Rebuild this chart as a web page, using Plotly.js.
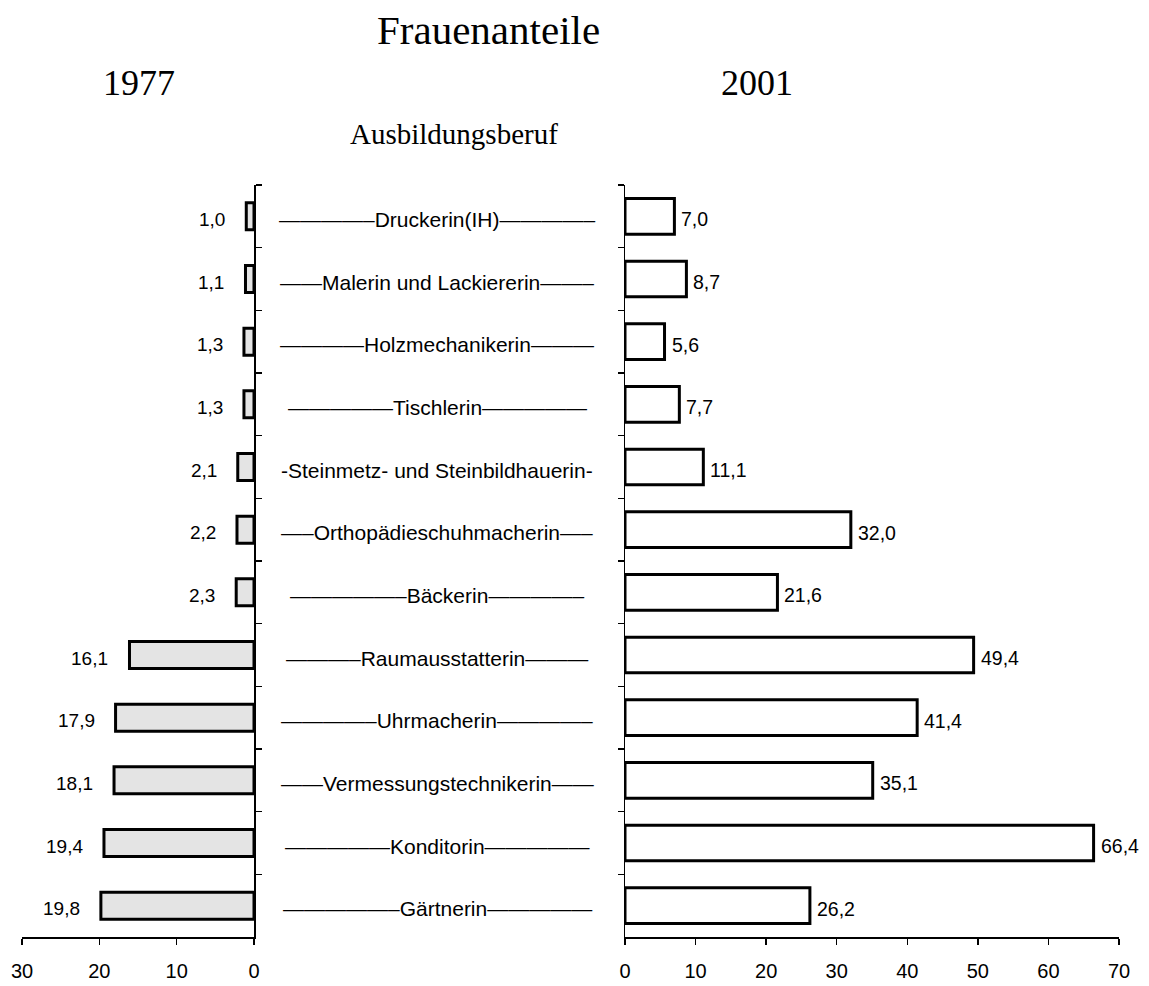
<!DOCTYPE html>
<html>
<head>
<meta charset="utf-8">
<script src="https://cdn.plot.ly/plotly-3.0.1.min.js"></script>
<style>html,body{margin:0;padding:0;background:#fff;}#chart{width:1149px;height:986px;}</style>
</head>
<body>
<div id="chart"></div>
<script>
// ---- Data ----
const categories = [
  "Druckerin(IH)", "Malerin und Lackiererin", "Holzmechanikerin", "Tischlerin",
  "Steinmetz- und Steinbildhauerin", "Orthopädieschuhmacherin", "Bäckerin",
  "Raumausstatterin", "Uhrmacherin", "Vermessungstechnikerin", "Konditorin", "Gärtnerin"
];
const middleLabels = [
  "————–Druckerin(IH)————–",
  "——Malerin und Lackiererin——–",
  "————Holzmechanikerin———",
  "—————Tischlerin—————",
  "-Steinmetz- und Steinbildhauerin-",
  "—–Orthopädieschuhmacherin—–",
  "—————–Bäckerin————–",
  "———–Raumausstatterin———",
  "————–Uhrmacherin————–",
  "——Vermessungstechnikerin——",
  "—————Konditorin—————",
  "—————–Gärtnerin—————"
];
const values1977 = [1.0, 1.1, 1.3, 1.3, 2.1, 2.2, 2.3, 16.1, 17.9, 18.1, 19.4, 19.8];
const values2001 = [7.0, 8.7, 5.6, 7.7, 11.1, 32.0, 21.6, 49.4, 41.4, 35.1, 66.4, 26.2];
const ticksLeft = [0, 10, 20, 30];
const ticksRight = [0, 10, 20, 30, 40, 50, 60, 70];
const mainTitle = "Frauenanteile";
const yearLeft = "1977";
const yearRight = "2001";
const middleTitle = "Ausbildungsberuf";

// ---- Helpers ----
const W = 1149, H = 986;
const px = v => v / W;
const py = v => 1 - v / H;
const fmt = v => v.toFixed(1).replace('.', ',');
const SANS = "Liberation Sans, Arial, sans-serif";
const SERIF = "Liberation Serif, Times New Roman, serif";

const traces = [
  {
    type: 'bar', orientation: 'h', x: values1977, y: categories,
    xaxis: 'x', yaxis: 'y', width: 0.43,
    marker: {color: '#e4e4e4', line: {color: '#000', width: 3}},
    hoverinfo: 'skip', showlegend: false
  },
  {
    type: 'bar', orientation: 'h', x: values2001, y: categories,
    xaxis: 'x2', yaxis: 'y2', width: 0.57,
    marker: {color: '#ffffff', line: {color: '#000', width: 3}},
    hoverinfo: 'skip', showlegend: false
  }
];

const annotations = [];
values1977.forEach((v, i) => annotations.push({
  x: v, y: categories[i], xref: 'x', yref: 'y', text: fmt(v), showarrow: false,
  xanchor: 'right', yanchor: 'middle', xshift: -19, yshift: -3,
  font: {family: SANS, size: 19, color: '#000'}
}));
values2001.forEach((v, i) => annotations.push({
  x: v, y: categories[i], xref: 'x2', yref: 'y2', text: fmt(v), showarrow: false,
  xanchor: 'left', yanchor: 'middle', xshift: 5, yshift: -3,
  font: {family: SANS, size: 19.5, color: '#000'}
}));
middleLabels.forEach((t, i) => annotations.push({
  x: px(437), y: categories[i], xref: 'paper', yref: 'y', text: t, showarrow: false,
  xanchor: 'center', yanchor: 'middle', yshift: -3,
  font: {family: SANS, size: 21, color: '#000'}
}));
annotations.push(
  {x: px(488), y: py(30), xref: 'paper', yref: 'paper', text: mainTitle, showarrow: false,
   xanchor: 'center', yanchor: 'middle', font: {family: SERIF, size: 41, color: '#000'}},
  {x: px(139), y: py(83), xref: 'paper', yref: 'paper', text: yearLeft, showarrow: false,
   xanchor: 'center', yanchor: 'middle', font: {family: SERIF, size: 36, color: '#000'}},
  {x: px(757), y: py(83), xref: 'paper', yref: 'paper', text: yearRight, showarrow: false,
   xanchor: 'center', yanchor: 'middle', font: {family: SERIF, size: 36, color: '#000'}},
  {x: px(453.5), y: py(134), xref: 'paper', yref: 'paper', text: middleTitle, showarrow: false,
   xanchor: 'center', yanchor: 'middle', font: {family: SERIF, size: 29, color: '#000'}}
);

const yDomain = [py(937), py(185)];
const xAxisCommon = {
  showgrid: false, zeroline: false, showline: true, linecolor: '#000', linewidth: 1.5,
  ticks: 'outside', ticklen: 6, tickwidth: 1.5, tickcolor: '#000',
  tickfont: {family: SANS, size: 20, color: '#000'}, ticklabelstandoff: 9,
  fixedrange: true
};
const yAxisCommon = {
  type: 'category', autorange: false, range: [categories.length - 0.5, -0.5],
  domain: yDomain, showgrid: false, zeroline: false, showline: true,
  linecolor: '#000', linewidth: 1.5, ticks: 'outside', tickson: 'boundaries',
  ticklen: 6, tickwidth: 1.5, tickcolor: '#000', showticklabels: false, fixedrange: true
};

const layout = {
  width: W, height: H, margin: {l: 0, r: 0, t: 0, b: 0, pad: 0},
  paper_bgcolor: '#fff', plot_bgcolor: 'rgba(0,0,0,0)',
  font: {family: SANS, color: '#000'},
  showlegend: false, bargap: 0,
  xaxis: Object.assign({}, xAxisCommon, {
    domain: [px(22), px(254)], range: [30, 0], tickmode: 'array',
    tickvals: ticksLeft, ticktext: ticksLeft.map(String), anchor: 'y'
  }),
  xaxis2: Object.assign({}, xAxisCommon, {
    domain: [px(625), px(1119)], range: [0, 70], tickmode: 'array',
    tickvals: ticksRight, ticktext: ticksRight.map(String), anchor: 'y2'
  }),
  yaxis: Object.assign({}, yAxisCommon, {anchor: 'x', side: 'right'}),
  yaxis2: Object.assign({}, yAxisCommon, {anchor: 'x2', side: 'left'}),
  annotations: annotations
};

Plotly.newPlot('chart', traces, layout, {staticPlot: true, displayModeBar: false});
</script>
</body>
</html>
